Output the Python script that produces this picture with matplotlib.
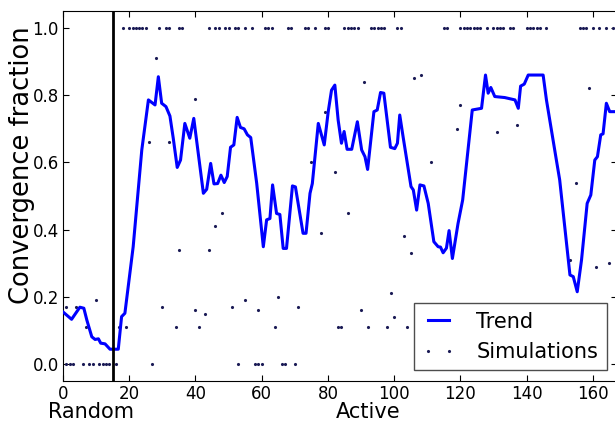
import matplotlib
matplotlib.use("Agg")
import matplotlib.pyplot as plt

# trend line (vertices)
trend_x = [0, 2.6, 5.1, 6.3, 7.2, 8.7, 9.7, 10.7, 11.4, 12.7, 14.2, 16.7, 17.7, 18.7,
           21.2, 23.8, 25.8, 27.8, 28.8, 29.8, 31.1, 32.3, 33.3, 34.5, 35.5, 36.8,
           38.3, 39.5, 42.4, 43.4, 44.6, 45.6, 46.7, 47.7, 48.7, 49.6, 50.6, 51.6,
           52.6, 53.6, 54.7, 55.7, 56.7, 58.5, 60.5, 61.5, 62.5, 63.3, 64.5, 65.5,
           66.5, 67.5, 69.3, 70.2, 72.5, 73.4, 74.6, 75.3, 77.1, 78.9, 80.1, 81.1,
           82.1, 83.1, 84.1, 84.9, 85.8, 87.2, 88.9, 90.2, 91.2, 92.0, 93.9, 94.9,
           95.9, 96.9, 98.9, 100.2, 101.0, 101.7, 102.7, 105.1, 105.8, 106.8, 107.8,
           109.0, 110.3, 112.0, 113.3, 114.0, 114.8, 115.8, 116.6, 117.6, 119.3,
           120.7, 123.6, 126.4, 127.6, 128.4, 129.2, 130.4, 133.4, 136.5, 137.5,
           138.2, 139.3, 140.5, 145.0, 146.0, 149.0, 150.0, 153.1, 154.1, 155.3,
           156.6, 158.3, 159.4, 160.6, 161.4, 162.4, 163.1, 164.1, 165.1, 167.5]
trend_y = [0.155, 0.133, 0.169, 0.166, 0.131, 0.081, 0.073, 0.075, 0.062, 0.060, 0.044,
           0.044, 0.141, 0.151, 0.349, 0.637, 0.786, 0.771, 0.855, 0.776, 0.766, 0.738,
           0.672, 0.585, 0.607, 0.716, 0.672, 0.731, 0.508, 0.520, 0.597, 0.536, 0.537,
           0.562, 0.540, 0.558, 0.645, 0.652, 0.734, 0.704, 0.700, 0.682, 0.674, 0.538,
           0.349, 0.429, 0.433, 0.533, 0.448, 0.445, 0.344, 0.344, 0.530, 0.527, 0.389,
           0.389, 0.508, 0.537, 0.716, 0.652, 0.751, 0.815, 0.830, 0.726, 0.657, 0.692,
           0.639, 0.639, 0.721, 0.637, 0.617, 0.579, 0.751, 0.756, 0.808, 0.806, 0.645,
           0.641, 0.657, 0.741, 0.677, 0.528, 0.518, 0.458, 0.533, 0.530, 0.478, 0.364,
           0.349, 0.348, 0.331, 0.345, 0.397, 0.314, 0.418, 0.488, 0.756, 0.761, 0.860,
           0.806, 0.823, 0.796, 0.793, 0.786, 0.761, 0.827, 0.833, 0.860, 0.860, 0.786,
           0.607, 0.548, 0.265, 0.260, 0.215, 0.310, 0.478, 0.503, 0.607, 0.617, 0.682,
           0.685, 0.776, 0.751, 0.751]

# simulations that converged fully (1.0) or not at all (0.0)
sims_one_x = [18, 20, 21, 22, 23, 24, 25, 29, 31, 32, 35, 36, 44, 46, 47, 49, 50, 52,
              53, 55, 57, 61, 62, 63, 68, 69, 73, 74, 76, 79, 80, 85, 86, 87, 88, 89,
              93, 94, 95, 96, 97, 101, 102, 115, 116, 120, 121, 122, 123, 124, 125,
              126, 128, 130, 131, 132, 133, 135, 136, 140, 141, 142, 143, 144, 146,
              156, 157, 158, 160, 162, 164, 166]
sims_zero_x = [1, 2, 3, 6, 8, 9, 11, 12, 13, 14, 16, 27, 53, 58, 59, 60, 66, 67, 70]
# the rest of the simulations
sims_mid_x = [1, 4, 7, 10, 17, 19, 26, 28, 30, 32, 34, 35, 40, 40, 41, 43, 44, 46, 48,
              51, 55, 59, 64, 65, 71, 75, 78, 79, 82, 83, 84, 86, 90, 91, 92, 98, 99,
              100, 103, 104, 105, 106, 108, 111, 119, 120, 131, 137, 153, 155, 159,
              161, 165]
sims_mid_y = [0.17, 0.17, 0.11, 0.19, 0.11, 0.11, 0.66, 0.91, 0.17, 0.66, 0.11, 0.34,
              0.79, 0.16, 0.11, 0.15, 0.34, 0.41, 0.45, 0.17, 0.19, 0.16, 0.11, 0.20,
              0.17, 0.60, 0.39, 0.75, 0.57, 0.11, 0.11, 0.45, 0.16, 0.84, 0.11, 0.11,
              0.21, 0.14, 0.38, 0.11, 0.33, 0.85, 0.86, 0.60, 0.70, 0.77, 0.69, 0.71,
              0.31, 0.54, 0.82, 0.29, 0.30]

switch_x = 15

sim_x = sims_one_x + sims_zero_x + sims_mid_x
sim_y = [1.0] * len(sims_one_x) + [0.0] * len(sims_zero_x) + sims_mid_y

fig = plt.figure(figsize=(6.15, 4.21), dpi=100)
ax = fig.add_axes([0.1024, 0.0955, 0.9008, 0.8779])

ax.plot(trend_x, trend_y, color="#0000ff", lw=2.2, label="Trend", zorder=3)
ax.plot(sim_x, sim_y, ".", color="#1a1a55", ms=2.5, label="Simulations", zorder=2)
ax.axvline(switch_x, color="k", lw=2, zorder=4)

ax.set_xlim(0, 167.3)
ax.set_ylim(-0.05, 1.05)
ax.set_xticks(range(0, 161, 20))
ax.set_yticks([0.0, 0.2, 0.4, 0.6, 0.8, 1.0])
ax.set_yticklabels(["0.0", "0.2", "0.4", "0.6", "0.8", "1.0"])
ax.tick_params(direction="in", top=True, right=True, length=4, labelsize=12, pad=3)

leg = ax.legend(loc="lower right", fontsize=15, numpoints=2, fancybox=False,
                handlelength=1.6, handletextpad=1.0, framealpha=1)
leg.get_frame().set_edgecolor("0.3")
leg.get_frame().set_linewidth(1)

fig.text(22 / 615, 1 - 165 / 421, "Convergence fraction", rotation=90,
         ha="center", va="center", fontsize=18.5)
fig.text(91 / 615, 3 / 421, "Random", ha="center", va="baseline", fontsize=15)
fig.text(368 / 615, 3 / 421, "Active", ha="center", va="baseline", fontsize=15)

fig.savefig("out.png", dpi=100)
